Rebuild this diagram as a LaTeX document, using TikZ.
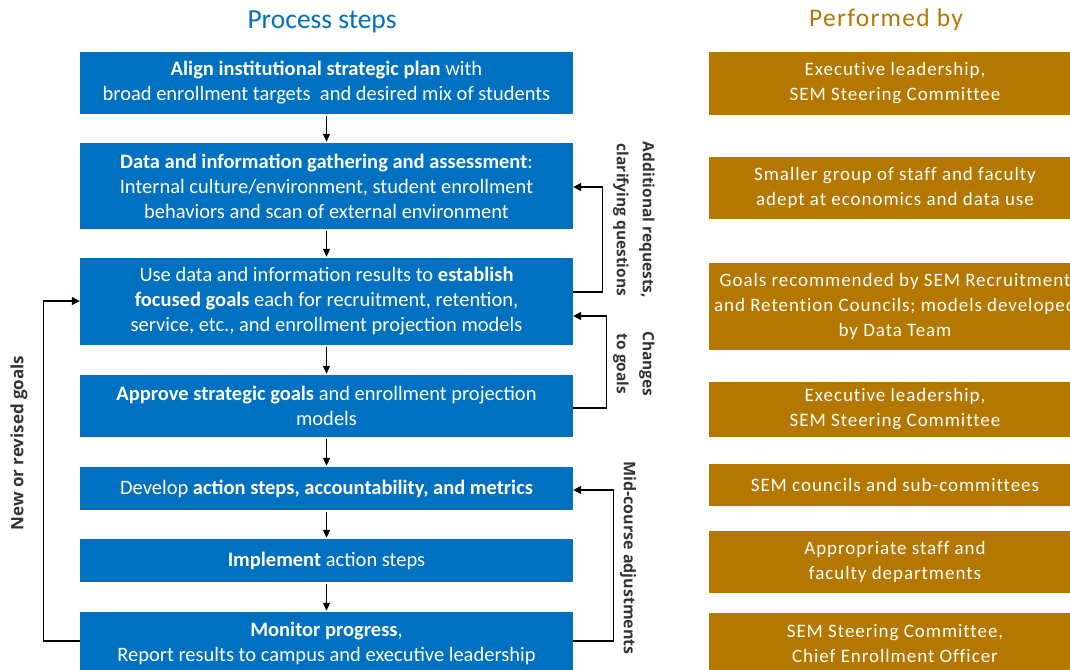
\documentclass[tikz,border=0pt]{standalone}
\usepackage{fontspec}
\setmainfont{Carlito}
\newfontfamily\perffont[LetterSpace=5,Ligatures=NoCommon]{Carlito}
\newfontfamily\notefont{Open Sans}
\usetikzlibrary{arrows.meta}
\definecolor{stepblue}{RGB}{0,112,192}
\definecolor{perfgold}{RGB}{180,119,0}
\tikzstyle{stepb}=[rectangle,fill=stepblue,text=white,minimum width=493pt,align=center,inner sep=0pt,font=\fontsize{20.5}{25}\selectfont]
\tikzstyle{perfb}=[rectangle,fill=perfgold,text=white,minimum width=372pt,align=center,inner sep=0pt,font=\perffont\fontsize{19}{25}\selectfont]
\tikzstyle{dn}=[-{Triangle[length=8pt,width=7pt]},line width=1.2pt,shorten <=2pt,shorten >=1pt]
\tikzstyle{fb}=[-{Triangle[length=8pt,width=8pt]},line width=1.2pt]
\tikzstyle{note}=[font=\notefont\bfseries\fontsize{15.5}{26}\selectfont,text=black!80,align=center]

\begin{document}
\begin{tikzpicture}[x=1pt,y=-1pt]
    \useasboundingbox (0,0) rectangle (1070,669);
    \node[text=stepblue,font=\fontsize{27.5}{30}\selectfont] (hs) at (322,22) {Process steps};
    \node[text=perfgold,font=\perffont\fontsize{25.5}{30}\selectfont] (hp) at (886,20) {Performed by};

    \node[stepb,minimum height=62pt] (b1) at (326.5,83) {\textbf{Align institutional strategic plan} with\\broad enrollment targets\ \ and desired mix of students};
    \node[stepb,minimum height=86pt] (b2) at (326.5,186) {\textbf{Data and information gathering and assessment}:\\Internal culture/environment, student enrollment\\behaviors and scan of external environment};
    \node[stepb,minimum height=87pt] (b3) at (326.5,301.5) {Use data and information results to \textbf{establish}\\\textbf{focused goals} each for recruitment, retention,\\service, etc., and enrollment projection models};
    \node[stepb,minimum height=62pt] (b4) at (326.5,406) {\textbf{Approve strategic goals} and enrollment projection\\models};
    \node[stepb,minimum height=43pt] (b5) at (326.5,488.5) {Develop \textbf{action steps, accountability,\ and metrics}};
    \node[stepb,minimum height=43pt] (b6) at (326.5,560.5) {\textbf{Implement} action steps};
    \node[stepb,minimum height=62pt] (b7) at (326.5,643) {\textbf{Monitor progress},\\Report results to campus and executive leadership};

    \node[perfb,minimum height=62pt] (p1) at (895,83.5) {Executive leadership,\\SEM Steering Committee};
    \node[perfb,minimum height=62pt] (p2) at (895,188) {Smaller group of staff and faculty\\adept at economics and data use};
    \node[perfb,minimum height=87pt] (p3) at (895,306.5) {Goals recommended by SEM Recruitment\\and Retention Councils; models developed\\by Data Team};
    \node[perfb,minimum height=55pt] (p4) at (895,409.5) {Executive leadership,\\SEM Steering Committee};
    \node[perfb,minimum height=42pt] (p5) at (895,485) {SEM councils and sub-committees};
    \node[perfb,minimum height=62pt] (p6) at (895,562) {Appropriate staff and\\faculty departments};
    \node[perfb,minimum height=62pt] (p7) at (895,644) {SEM Steering Committee,\\Chief Enrollment Officer};

    \foreach \from/\to in {b1/b2,b2/b3,b3/b4,b4/b5,b5/b6,b6/b7}
    \draw[dn] (\from.south) -- (\to.north);

    \draw[fb] ([yshift=9.5pt]b3.east) -- ++(29,0) |- ([yshift=-1pt]b2.east);
    \draw[fb] ([yshift=-2pt]b4.east) -- ++(33,0) |- ([yshift=-14.5pt]b3.east);
    \draw[fb] ([yshift=2pt]b7.east) -- ++(40,0) |- ([yshift=-1.5pt]b5.east);
    \draw[fb] ([yshift=2pt]b7.west) -- ++(-36,0) |- ([yshift=0.5pt]b3.west);

    \node[note,rotate=-90] (n1) at (634,220) {Additional requests,\\clarifying questions};
    \node[note,rotate=-90] (n2) at (634,364) {Changes\\to goals};
    \node[note,rotate=-90,font=\notefont\bfseries\fontsize{16}{26}\selectfont] (n3) at (628,558) {Mid-course adjustments};
    \node[note,rotate=90,font=\notefont\bfseries\fontsize{17}{26}\selectfont] (n4) at (19,443) {New or revised goals};
\end{tikzpicture}
\end{document}
